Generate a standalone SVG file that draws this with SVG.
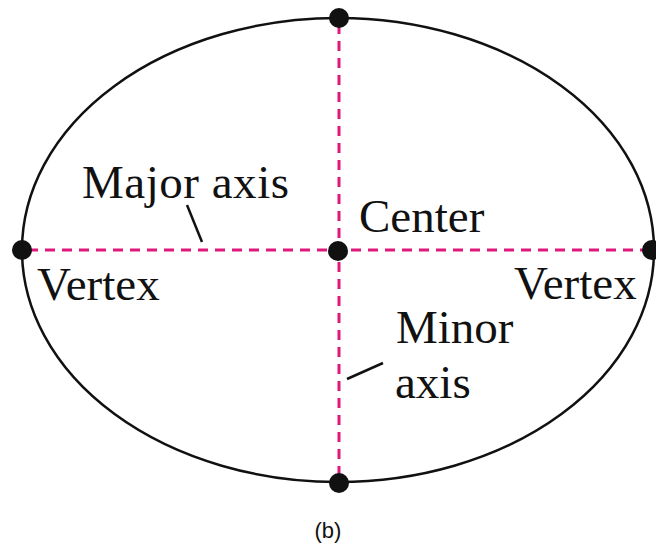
<svg xmlns="http://www.w3.org/2000/svg" width="656" height="550" viewBox="0 0 656 550">
<style>
.lbl{font-family:"Liberation Serif","Times New Roman",serif;font-size:47px;fill:#111}
.axis{stroke:#e0187c;stroke-width:3;stroke-dasharray:10 7;fill:none}
.lead{stroke:#111;stroke-width:2.5;fill:none}
.dot{fill:#111}
</style>
<rect width="656" height="550" fill="#fff"/>
<g id="ellipse"><ellipse cx="338" cy="250" rx="316" ry="232" fill="none" stroke="#111" stroke-width="2.5"/></g>
<g id="connectors">
<line class="axis" x1="28" y1="250" x2="650" y2="250"/>
<line class="axis" x1="339" y1="24" x2="339" y2="478"/>
<line class="lead" x1="187" y1="205" x2="202" y2="242"/>
<line class="lead" x1="347" y1="379" x2="383" y2="363"/>
</g>
<g id="vertex-left"><circle class="dot" cx="22" cy="250" r="10"/><text class="lbl" x="37" y="300">Vertex</text></g>
<g id="vertex-right"><circle class="dot" cx="652" cy="250" r="10"/><text class="lbl" x="514" y="299">Vertex</text></g>
<g id="top"><circle class="dot" cx="339" cy="18" r="10"/></g>
<g id="bottom"><circle class="dot" cx="339" cy="483" r="10"/></g>
<g id="center"><circle class="dot" cx="338" cy="251" r="10"/><text class="lbl" x="359" y="232">Center</text></g>
<g id="major"><text class="lbl" x="82" y="198" textLength="207">Major axis</text></g>
<g id="minor"><text class="lbl" x="396" y="343">Minor</text><text class="lbl" x="395" y="398">axis</text></g>
<text x="328" y="538" text-anchor="middle" font-family="Liberation Sans, Arial, sans-serif" font-size="22" fill="#111">(b)</text>
</svg>
